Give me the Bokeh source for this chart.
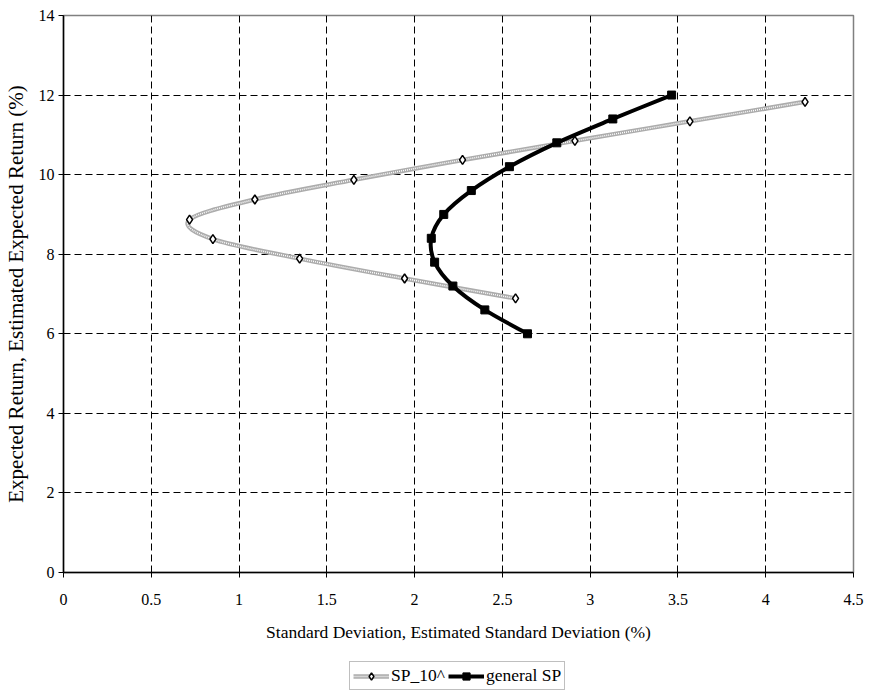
import numpy as np
from bokeh.plotting import figure
from bokeh.layouts import column
from bokeh.models import Legend, LegendItem, ColumnDataSource, FixedTicker, Range1d
from bokeh.embed import file_html
from bokeh.resources import INLINE

# ---- data ----
sp10_sd = [2.575, 1.943, 1.345, 0.851, 0.718, 1.09, 1.654, 2.273, 2.913, 3.568, 4.224]
sp10_ret = [6.89, 7.39, 7.89, 8.38, 8.87, 9.375, 9.87, 10.37, 10.85, 11.34, 11.83]
gen_sd = [2.643, 2.40, 2.218, 2.114, 2.095, 2.166, 2.323, 2.54, 2.81, 3.129, 3.464]
gen_ret = [6.0, 6.6, 7.2, 7.8, 8.4, 9.0, 9.6, 10.2, 10.8, 11.4, 12.0]
x_ticks = [0, 0.5, 1, 1.5, 2, 2.5, 3, 3.5, 4, 4.5]
y_ticks = [0, 2, 4, 6, 8, 10, 12, 14]

FONT = "Liberation Serif"

SP_BASE = dict(line_color="#acacac", line_width=4.5)
SP_TEX = dict(line_color="white", line_width=1.5, line_dash="1 1")
SP_PTS = dict(marker="diamond", size=9, fill_color="white", line_color="black", line_width=1.5)
GEN_LINE = dict(line_color="black", line_width=4)
GEN_PTS = dict(marker="square", size=8, fill_color="black", line_color="black")
BEZ = dict(x0="x0", y0="y0", x1="x1", y1="y1", cx0="cx0", cy0="cy0", cx1="cx1", cy1="cy1")


def smooth_segments(xs, ys):
    """Bezier control points for a smoothed (Catmull-Rom style) line through the data."""
    x = np.asarray(xs, float)
    y = np.asarray(ys, float)
    n = len(x)
    d = dict(x0=[], y0=[], x1=[], y1=[], cx0=[], cy0=[], cx1=[], cy1=[])
    for i in range(n - 1):
        pm = max(i - 1, 0)
        pn = min(i + 2, n - 1)
        d["x0"].append(x[i]); d["y0"].append(y[i])
        d["x1"].append(x[i + 1]); d["y1"].append(y[i + 1])
        d["cx0"].append(x[i] + (x[i + 1] - x[pm]) / 6.0)
        d["cy0"].append(y[i] + (y[i + 1] - y[pm]) / 6.0)
        d["cx1"].append(x[i + 1] - (x[pn] - x[i]) / 6.0)
        d["cy1"].append(y[i + 1] - (y[pn] - y[i]) / 6.0)
    return ColumnDataSource(d)


# ---------------- main chart ----------------
p = figure(width=869, height=650, output_backend="svg", toolbar_location=None,
           x_range=Range1d(0, 4.5), y_range=Range1d(0, 14),
           min_border_left=63, min_border_right=16, min_border_top=15, min_border_bottom=78)

p.background_fill_color = "white"
p.border_fill_color = "white"
p.outline_line_color = "#808080"
p.outline_line_width = 1.5

for g in (p.xgrid, p.ygrid):
    g.grid_line_color = "black"
    g.grid_line_dash = "7 4"
    g.grid_line_width = 1

p.xaxis.ticker = FixedTicker(ticks=x_ticks)
p.yaxis.ticker = FixedTicker(ticks=y_ticks)
for ax in (p.xaxis, p.yaxis):
    ax.axis_line_color = "black"
    ax.axis_line_width = 1.5
    ax.major_tick_line_color = "black"
    ax.major_tick_out = 5
    ax.major_tick_in = 0
    ax.minor_tick_line_color = None
    ax.major_label_text_font = FONT
    ax.major_label_text_font_size = "16px"
    ax.major_label_text_color = "black"
    ax.axis_label_text_font = FONT
    ax.axis_label_text_font_style = "normal"
    ax.axis_label_text_color = "black"

p.xaxis.axis_label = "Standard Deviation, Estimated Standard Deviation (%)"
p.yaxis.axis_label = "Expected Return, Estimated Expected Return (%)"
p.xaxis.axis_label_text_font_size = "17.5px"
p.yaxis.axis_label_text_font_size = "21px"
p.xaxis.major_label_standoff = 16
p.xaxis.axis_label_standoff = 14
p.yaxis.major_label_standoff = 4
p.yaxis.axis_label_standoff = 8

src_sp = smooth_segments(sp10_sd, sp10_ret)
p.bezier(source=src_sp, **BEZ, **SP_BASE)
p.bezier(source=src_sp, **BEZ, **SP_TEX)
p.scatter(sp10_sd, sp10_ret, **SP_PTS)

src_gen = smooth_segments(gen_sd, gen_ret)
p.bezier(source=src_gen, **BEZ, **GEN_LINE)
p.scatter(gen_sd, gen_ret, **GEN_PTS)

# ---------------- legend strip below the chart ----------------
# Same series drawn again in a strip whose ranges lie away from the data,
# so only the legend of that strip is visible.
lg = figure(width=869, height=41, output_backend="svg", toolbar_location=None,
            x_range=Range1d(100, 101), y_range=Range1d(100, 101),
            x_axis_type=None, y_axis_type=None,
            min_border_left=0, min_border_right=0, min_border_top=0, min_border_bottom=0)
lg.outline_line_color = None
lg.xgrid.visible = False
lg.ygrid.visible = False
lg.background_fill_color = "white"
lg.border_fill_color = "white"

l_sp_base = lg.bezier(source=smooth_segments(sp10_sd, sp10_ret), **BEZ, **SP_BASE)
l_sp_tex = lg.bezier(source=smooth_segments(sp10_sd, sp10_ret), **BEZ, **SP_TEX)
l_sp_pts = lg.scatter(sp10_sd, sp10_ret, **SP_PTS)
l_gen_line = lg.bezier(source=smooth_segments(gen_sd, gen_ret), **BEZ, **GEN_LINE)
l_gen_pts = lg.scatter(gen_sd, gen_ret, **GEN_PTS)

legend = Legend(items=[
    LegendItem(label="SP_10^", renderers=[l_sp_base, l_sp_tex, l_sp_pts]),
    LegendItem(label="general SP", renderers=[l_gen_line, l_gen_pts]),
], orientation="horizontal", location=(286, 1))
legend.label_text_font = FONT
legend.label_text_font_size = "17.5px"
legend.label_text_color = "black"
legend.border_line_color = "#808080"
legend.border_line_width = 1.5
legend.background_fill_color = "white"
legend.background_fill_alpha = 1
legend.glyph_width = 36
legend.glyph_height = 18
legend.label_standoff = 2
legend.spacing = 3
legend.padding = 3
legend.margin = 0
lg.add_layout(legend, "center")

layout = column(p, lg, spacing=0)
open("out.html", "w").write(file_html(layout, INLINE))
